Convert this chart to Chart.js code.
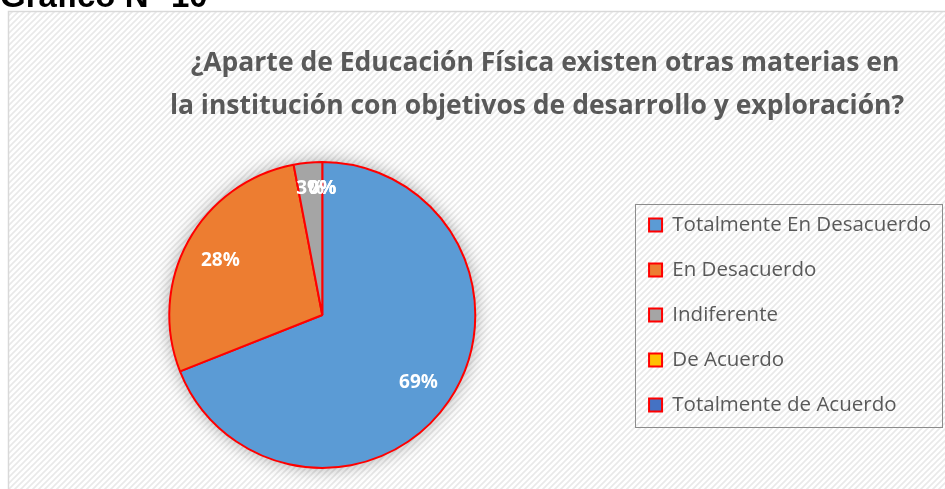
<!DOCTYPE html>
<html>
<head>
<meta charset="utf-8">
<script src="https://cdn.jsdelivr.net/npm/chart.js@4.4.1/dist/chart.umd.min.js"></script>
<style>
  html, body { margin: 0; padding: 0; background: #fff; overflow: hidden; }
</style>
</head>
<body>
<canvas id="chart-canvas" width="945" height="489"></canvas>
<script>
// data
const categories = ["Totalmente En Desacuerdo", "En Desacuerdo", "Indiferente", "De Acuerdo", "Totalmente de Acuerdo"];
const percentages = [69, 28, 3, 0, 0];
const sliceColors = ["#5B9BD5", "#ED7D31", "#A5A5A5", "#FFC000", "#4472C4"];
const titleLines = ["¿Aparte de Educación Física existen otras materias en", "la institución con objetivos de desarrollo y exploración?"];
const pageHeading = "Gráfico N° 10";

const FONT = "'Open Sans', sans-serif";

function hatchPattern(ctx) {
  const p = document.createElement("canvas");
  p.width = 6; p.height = 6;
  const pc = p.getContext("2d");
  pc.fillStyle = "#ffffff";
  pc.fillRect(0, 0, 6, 6);
  pc.strokeStyle = "#e9e9e9";
  pc.lineWidth = 1.6;
  pc.beginPath();
  pc.moveTo(-1, 7); pc.lineTo(7, -1);
  pc.moveTo(-4, 4); pc.lineTo(4, -4);
  pc.moveTo(2, 10); pc.lineTo(10, 2);
  pc.stroke();
  return ctx.createPattern(p, "repeat");
}

// background, frame, heading and title
const backdrop = {
  id: "backdrop",
  beforeDraw(chart) {
    const c = chart.ctx, w = chart.width, h = chart.height;
    c.save();
    c.fillStyle = "#fff";
    c.fillRect(0, 0, w, h);
    c.fillStyle = hatchPattern(c);
    c.fillRect(9, 12, w - 9, h - 12);
    c.strokeStyle = "#d9d9d9";
    c.lineWidth = 1.5;
    c.strokeRect(8.5, 11.5, w, h);

    // page heading, mostly cut off by the top edge
    c.fillStyle = "#000";
    c.font = "bold 33px 'Liberation Sans', Arial, sans-serif";
    c.textAlign = "left";
    c.textBaseline = "alphabetic";
    c.fillText(pageHeading, 0, 7);

    c.fillStyle = "#595959";
    c.font = "bold 26.5px " + FONT;
    c.textAlign = "center";
    c.fillText(titleLines[0], 545, 71);
    c.fillText(titleLines[1], 537, 114);
    c.restore();
  }
};

// soft shadow behind the pie
const pieShadow = {
  id: "pieShadow",
  beforeDatasetsDraw(chart) {
    const arc = chart.getDatasetMeta(0).data[0];
    if (!arc) return;
    const c = chart.ctx;
    c.save();
    c.shadowColor = "rgba(0,0,0,0.35)";
    c.shadowBlur = 18;
    c.beginPath();
    c.arc(arc.x, arc.y, arc.outerRadius, 0, Math.PI * 2);
    c.fillStyle = "#fff";
    c.fill();
    c.restore();
  }
};

// percentage labels inside the slices
const sliceLabels = {
  id: "sliceLabels",
  afterDatasetsDraw(chart) {
    const c = chart.ctx;
    const meta = chart.getDatasetMeta(0);
    c.save();
    c.fillStyle = "#fff";
    c.font = "bold 19px " + FONT;
    c.textAlign = "center";
    c.textBaseline = "middle";
    meta.data.forEach((arc, i) => {
      const v = percentages[i];
      const mid = (arc.startAngle + arc.endAngle) / 2;
      const f = v < 5 ? 0.84 : 0.76;
      const x = arc.x + Math.cos(mid) * arc.outerRadius * f;
      const y = arc.y + Math.sin(mid) * arc.outerRadius * f + 2;
      c.fillText(v + "%", x, y);
    });
    c.restore();
  }
};

// grey frame round the legend
const legendFrame = {
  id: "legendFrame",
  afterDraw(chart) {
    const hb = chart.legend.legendHitBoxes;
    if (!hb || !hb.length) return;
    const last = hb[hb.length - 1];
    const c = chart.ctx;
    c.save();
    c.strokeStyle = "#8c8c8c";
    c.lineWidth = 1;
    const left = Math.round(hb[0].left - 14) + 0.5;
    const top = Math.round(hb[0].top - 11) + 0.5;
    const bottom = Math.round(last.top + last.height + 12) + 0.5;
    c.strokeRect(left, top, 942.5 - left, bottom - top);
    c.restore();
  }
};

const ctx = document.getElementById("chart-canvas").getContext("2d");
new Chart(ctx, {
  type: "pie",
  data: {
    labels: categories,
    datasets: [{
      data: percentages,
      backgroundColor: sliceColors,
      borderColor: "#ff0000",
      borderWidth: 2
    }]
  },
  options: {
    responsive: false,
    animation: false,
    radius: 153,
    layout: { padding: { left: 20, right: 4, top: 141, bottom: 0 } },
    plugins: {
      title: { display: false },
      tooltip: { enabled: false },
      legend: {
        position: "right",
        labels: {
          color: "#595959",
          font: { family: FONT, size: 20.5 },
          boxWidth: 13,
          boxHeight: 13,
          padding: 24.5
        }
      }
    }
  },
  plugins: [backdrop, pieShadow, sliceLabels, legendFrame]
});
</script>
</body>
</html>
